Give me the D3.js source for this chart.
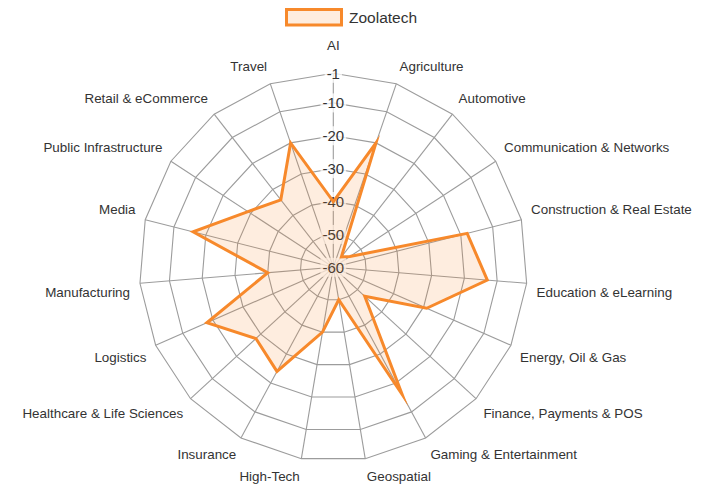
<!DOCTYPE html>
<html>
<head>
<meta charset="utf-8">
<script src="https://cdn.jsdelivr.net/npm/d3@7"></script>
<style>
  body { margin: 0; background: #fff; }
  svg { display: block; font-family: "Liberation Sans", Arial, Helvetica, sans-serif; }
</style>
</head>
<body>
<div id="radar"></div>
<script>
let categories = ["AI", "Agriculture", "Automotive", "Communication & Networks", "Construction & Real Estate",
  "Education & eLearning", "Energy, Oil & Gas", "Finance, Payments & POS", "Gaming & Entertainment",
  "Geospatial", "High-Tech", "Insurance", "Healthcare & Life Sciences", "Logistics", "Manufacturing",
  "Media", "Public Infrastructure", "Retail & eCommerce", "Travel"];

let zoolatech = [-40, -20, -56, -54, -18, -13, -29, -47, -16, -50, -40, -24, -28, -18, -40, -16, -29, -34, -20];

let tickValues = [-60, -50, -40, -30, -20, -10, -1];

let seriesName = "Zoolatech";

let width = 711, height = 485;
let cx = 333.3, cy = 267.3, outer = 194;
let n = categories.length;

let r = d3.scaleLinear()
  .domain([d3.min(tickValues), d3.max(tickValues)])
  .range([0, outer]);

let angle = i => i * 2 * Math.PI / n;

const svg = d3.select("#radar").append("svg")
  .attr("width", width)
  .attr("height", height)
  .attr("viewBox", [0, 0, width, height]);

const g = svg.append("g").attr("transform", `translate(${cx},${cy})`);

// grid polygons
let ring = d3.lineRadial()
  .angle((d, i) => angle(i))
  .radius(d => r(d))
  .curve(d3.curveLinearClosed);

g.append("g")
  .selectAll("path")
  .data(tickValues.slice(1))
  .join("path")
    .attr("d", v => ring(categories.map(() => v)))
    .attr("fill", "none")
    .attr("stroke", "#9c9c9c")
    .attr("stroke-width", 1.1);

// spokes
g.append("g")
  .selectAll("line")
  .data(categories)
  .join("line")
    .attr("x1", 0).attr("y1", 0)
    .attr("x2", (d, i) => r(d3.max(tickValues)) * Math.sin(angle(i)))
    .attr("y2", (d, i) => -r(d3.max(tickValues)) * Math.cos(angle(i)))
    .attr("stroke", "#9c9c9c")
    .attr("stroke-width", 1.1);

// point labels
let labelH = 16;
g.append("g")
  .selectAll("text")
  .data(categories)
  .join("text")
    .each(function(d, i) {
      let deg = i * 360 / n;
      let rr = outer + 10 + (i === 0 ? 9.5 : 0);
      let x = rr * Math.sin(angle(i));
      let y = -rr * Math.cos(angle(i));
      let anchor = (deg === 0 || deg === 180) ? "middle" : deg < 180 ? "start" : "end";
      if (deg === 90 || deg === 270) {
        // centred
      } else if (deg < 90 || deg > 270) {
        y -= labelH / 2;
      } else {
        y += labelH / 2;
      }
      d3.select(this)
        .attr("x", x)
        .attr("y", y)
        .attr("text-anchor", anchor)
        .attr("dominant-baseline", "central");
    })
    .attr("font-size", "13.4px")
    .attr("fill", "#333")
    .text(d => d);

// tick labels with backdrop
const ticks = g.append("g")
  .selectAll("g")
  .data(tickValues)
  .join("g")
    .attr("transform", d => `translate(0,${-r(d)})`);

ticks.append("rect")
  .attr("fill", "rgba(255,255,255,0.75)");

ticks.append("text")
  .attr("text-anchor", "middle")
  .attr("dominant-baseline", "central")
  .attr("font-size", "15px")
  .attr("fill", "#333")
  .text(d => d);

ticks.each(function() {
  let t = d3.select(this).select("text").node();
  let w = t.getComputedTextLength();
  d3.select(this).select("rect")
    .attr("x", -w / 2 - 2)
    .attr("y", -7.5 - 2)
    .attr("width", w + 4)
    .attr("height", 15 + 4);
});

// dataset
let area = d3.lineRadial()
  .angle((d, i) => angle(i))
  .radius(d => r(d))
  .curve(d3.curveLinearClosed);

g.append("path")
  .datum(zoolatech)
  .attr("d", area)
  .attr("fill", "rgba(247,137,43,0.15)")
  .attr("stroke", "#f7892b")
  .attr("stroke-width", 3)
  .attr("stroke-linejoin", "miter")
  .attr("stroke-miterlimit", 10);

// legend
const legend = svg.append("g");
legend.append("rect")
  .attr("x", 286.5)
  .attr("y", 9.5)
  .attr("width", 55)
  .attr("height", 15.5)
  .attr("fill", "rgba(247,137,43,0.15)")
  .attr("stroke", "#f7892b")
  .attr("stroke-width", 3);
legend.append("text")
  .attr("x", 349)
  .attr("y", 17.5)
  .attr("dominant-baseline", "central")
  .attr("font-size", "15.5px")
  .attr("fill", "#333")
  .text(seriesName);
</script>
</body>
</html>
